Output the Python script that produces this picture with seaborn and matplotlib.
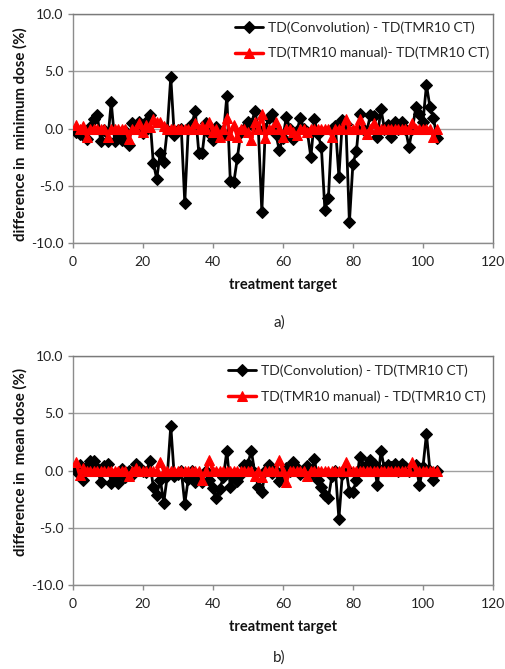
import numpy as np
import pandas as pd
import matplotlib
matplotlib.use("Agg")
import matplotlib.pyplot as plt
import seaborn as sns

# ---------------- data ----------------
target = list(range(1, 105))

min_conv = [-0.3, -0.5, -0.6, -0.9, 0.1, 0.8, 1.2, -1.1, -0.1, -1.1,
            2.3, -1.1, -0.4, -1.0, -0.2, -1.4, 0.5, 0.2, 0.6, -0.4,
            0.6, 1.2, -3.0, -4.4, -2.1, -2.9, -0.1, 4.5, -0.6, -0.1,
            0.0, -6.5, 0.0, 0.4, 1.5, -2.1, -2.1, 0.5, -0.4, -1.0,
            0.1, -0.5, -0.6, 2.8, -4.6, -4.7, -2.6, -0.3, 0.0, 0.6,
            0.4, 1.5, 0.0, -7.3, 0.0, 0.9, 1.3, -0.5, -1.9, -0.8,
            1.0, 0.0, -0.9, -0.2, 0.9, 0.0, -0.3, -2.5, 0.8, -0.5,
            -1.6, -7.1, -6.1, 0.0, 0.2, -4.2, 0.7, 0.4, -8.2, -3.1,
            -2.0, 1.3, 0.0, -0.2, 1.2, 1.1, -0.7, 1.7, 0.0, 0.3,
            -0.7, 0.6, 0.0, 0.6, 0.0, -1.6, 0.0, 1.9, 1.3, 0.6,
            3.8, 1.9, 0.9, -0.8]

min_manual = [0.3, 0.0, 0.2, -0.7, 0.0, 0.0, 0.0, 0.0, 0.0, -0.7,
              0.0, 0.0, 0.0, 0.0, 0.0, -0.9, 0.0, 0.0, 0.5, -0.3,
              0.3, 0.1, 0.8, 0.6, 0.6, 0.2, 0.0, 0.0, 0.0, 0.0,
              0.0, 0.0, 0.0, 0.0, 0.5, 0.0, 0.2, 0.0, 0.6, -0.3,
              0.0, -0.7, 0.0, 0.9, -0.6, 0.3, -0.7, 0.0, 0.0, -0.3,
              -1.0, 0.6, 0.0, 1.3, -0.8, 0.0, 0.0, 0.6, 0.0, -0.7,
              0.0, 0.0, -0.3, -0.6, 0.0, 0.0, -0.3, 0.0, 0.0, 0.0,
              0.0, 0.0, 0.0, -0.7, 0.0, 0.0, 0.0, 0.8, 0.0, 0.0,
              0.0, 0.8, 0.0, -0.5, 0.0, 0.5, 0.0, 0.0, 0.0, 0.0,
              0.0, 0.0, 0.0, 0.0, 0.0, 0.0, 0.5, 0.0, 0.0, 0.0,
              0.0, 0.0, -0.7, 0.0]

mean_conv = [0.0, 0.5, -0.8, 0.3, 0.8, 0.8, 0.2, -1.0, 0.4, 0.6,
             -1.1, -0.5, -1.1, 0.1, -0.6, 0.0, -0.4, 0.6, 0.3, 0.0,
             -0.1, 0.8, -1.4, -2.1, -0.8, -2.8, -0.5, 3.9, -0.5, -0.3,
             0.0, -2.9, -0.7, 0.0, -1.0, -0.4, -1.0, 0.0, -0.8, -1.5,
             -2.4, -1.6, -0.6, 1.7, -1.4, -0.6, -0.9, -0.3, 0.5, 0.6,
             1.7, -0.2, -1.4, -1.9, 0.0, 0.5, -0.2, 0.0, -0.9, -0.5,
             0.2, 0.0, 0.7, 0.2, -0.3, 0.0, 0.4, -0.3, 1.0, -0.8,
             -1.4, -2.1, -2.4, -0.5, 0.0, -4.2, -0.3, 0.2, -1.9, -1.9,
             -0.8, 1.2, 0.3, 0.5, 0.9, 0.6, -1.3, 1.7, 0.2, 0.5,
             0.3, 0.6, 0.0, 0.6, 0.3, 0.0, 0.4, 0.5, -1.3, 0.3,
             3.2, 0.0, -0.8, 0.0]

mean_manual = [0.7, -0.4, 0.2, 0.0, 0.0, 0.0, 0.0, 0.0, 0.0, 0.0,
               0.0, 0.0, 0.0, 0.0, 0.0, -0.5, 0.0, 0.2, 0.0, 0.0,
               0.0, 0.0, 0.0, 0.0, 0.7, 0.0, 0.0, 0.0, 0.0, 0.0,
               0.0, 0.0, 0.0, 0.0, 0.0, 0.0, -0.8, 0.0, 0.9, 0.0,
               0.0, 0.0, 0.0, 0.0, 0.0, 0.0, 0.0, 0.0, 0.0, 0.0,
               0.0, -0.5, 0.0, -0.6, 0.0, 0.0, 0.0, 0.0, 0.9, 0.0,
               -1.0, 0.0, 0.0, 0.0, 0.0, 0.0, -0.5, 0.0, 0.0, 0.0,
               0.0, 0.0, 0.0, 0.0, 0.0, 0.0, 0.0, 0.7, 0.0, 0.0,
               0.0, 0.0, 0.0, 0.0, 0.0, 0.0, 0.0, 0.0, 0.0, 0.0,
               0.0, 0.0, 0.0, 0.0, 0.0, 0.0, 0.7, 0.0, 0.0, 0.0,
               0.0, 0.0, 0.0, 0.0]

x_ticks = [0, 20, 40, 60, 80, 100, 120]
y_ticks = [-10.0, -5.0, 0.0, 5.0, 10.0]
y_ticklabels = ["-10.0", "-5.0", "0.0", "5.0", "10.0"]

legend_top = ["TD(Convolution) - TD(TMR10 CT)", "TD(TMR10 manual)- TD(TMR10 CT)"]
legend_bot = ["TD(Convolution) - TD(TMR10 CT)", "TD(TMR10 manual) - TD(TMR10 CT)"]
ylabel_top = "difference in  minimum dose (%)"
ylabel_bot = "difference in  mean dose (%)"
xlabel = "treatment target"
panel_labels = ["a)", "b)"]

# ---------------- style ----------------
sns.set_style("white")
plt.rcParams['font.family'] = ['Lato', 'DejaVu Sans']

W, H = 506, 669
fig = plt.figure(figsize=(W / 100, H / 100), dpi=100)

def px_axes(left, top, right, bottom):
    return fig.add_axes([left / W, 1 - bottom / H, (right - left) / W, (bottom - top) / H])

ax1 = px_axes(72.7, 14, 493, 243)
ax2 = px_axes(72.7, 356, 493, 585)

def draw(ax, conv, manual, labels, ylabel, ylab_y, leg_x, leg_y):
    df = pd.DataFrame({"target": target, "conv": conv, "manual": manual})
    sns.lineplot(data=df, x="target", y="conv", ax=ax, color="black", lw=2.0,
                 marker="D", markersize=6.3, markeredgecolor="black",
                 estimator=None, sort=False, label=labels[0], zorder=3)
    sns.lineplot(data=df, x="target", y="manual", ax=ax, color="#ff0000", lw=2.5,
                 marker="^", markersize=7.3, markeredgecolor="#ff0000",
                 estimator=None, sort=False, label=labels[1], zorder=4)
    ax.set_xlim(0, 120)
    ax.set_ylim(-10, 10)
    ax.set_xticks(x_ticks)
    ax.set_yticks(y_ticks)
    ax.set_yticklabels(y_ticklabels)
    ax.yaxis.grid(True, color="#a0a0a0", lw=1.0)
    ax.xaxis.grid(False)
    for side in ["left", "bottom"]:
        ax.spines[side].set_color("#8c8c8c")
        ax.spines[side].set_linewidth(1.0)
    for side in ["top", "right"]:
        ax.spines[side].set_color("#7a7a7a")
        ax.spines[side].set_linewidth(1.0)
    ax.tick_params(axis="both", direction="out", length=3.5, width=1.0,
                   color="#8c8c8c", labelsize=10, labelcolor="#222222",
                   left=True, bottom=True)
    ax.tick_params(axis="x", pad=6)
    ax.tick_params(axis="y", pad=3)
    ax.set_xlabel(xlabel, fontsize=10.5, fontweight="bold", color="#111111")
    ax.xaxis.set_label_coords(0.5, -0.155)
    ax.xaxis.label.set_va("top")
    ax.set_ylabel(ylabel, fontsize=10.8, fontweight="bold", color="#111111")
    ax.yaxis.set_label_coords(-0.125, ylab_y)
    ax.yaxis.label.set_va("center")
    ax.legend(loc="upper left", bbox_to_anchor=(leg_x, leg_y), frameon=False,
              fontsize=10, handlelength=2.0, handletextpad=0.35,
              labelspacing=0.95, borderpad=0, borderaxespad=0)

draw(ax1, min_conv, min_manual, legend_top, ylabel_top, 0.476, 0.386, 0.969)
draw(ax2, mean_conv, mean_manual, legend_bot, ylabel_bot, 0.535, 0.3695, 0.963)

fig.text(279 / W, 1 - 323 / H, panel_labels[0], ha="center", va="center",
         fontsize=11, color="#222222")
fig.text(279 / W, 1 - 658 / H, panel_labels[1], ha="center", va="center",
         fontsize=11, color="#222222")

fig.savefig("out.png", dpi=100)
